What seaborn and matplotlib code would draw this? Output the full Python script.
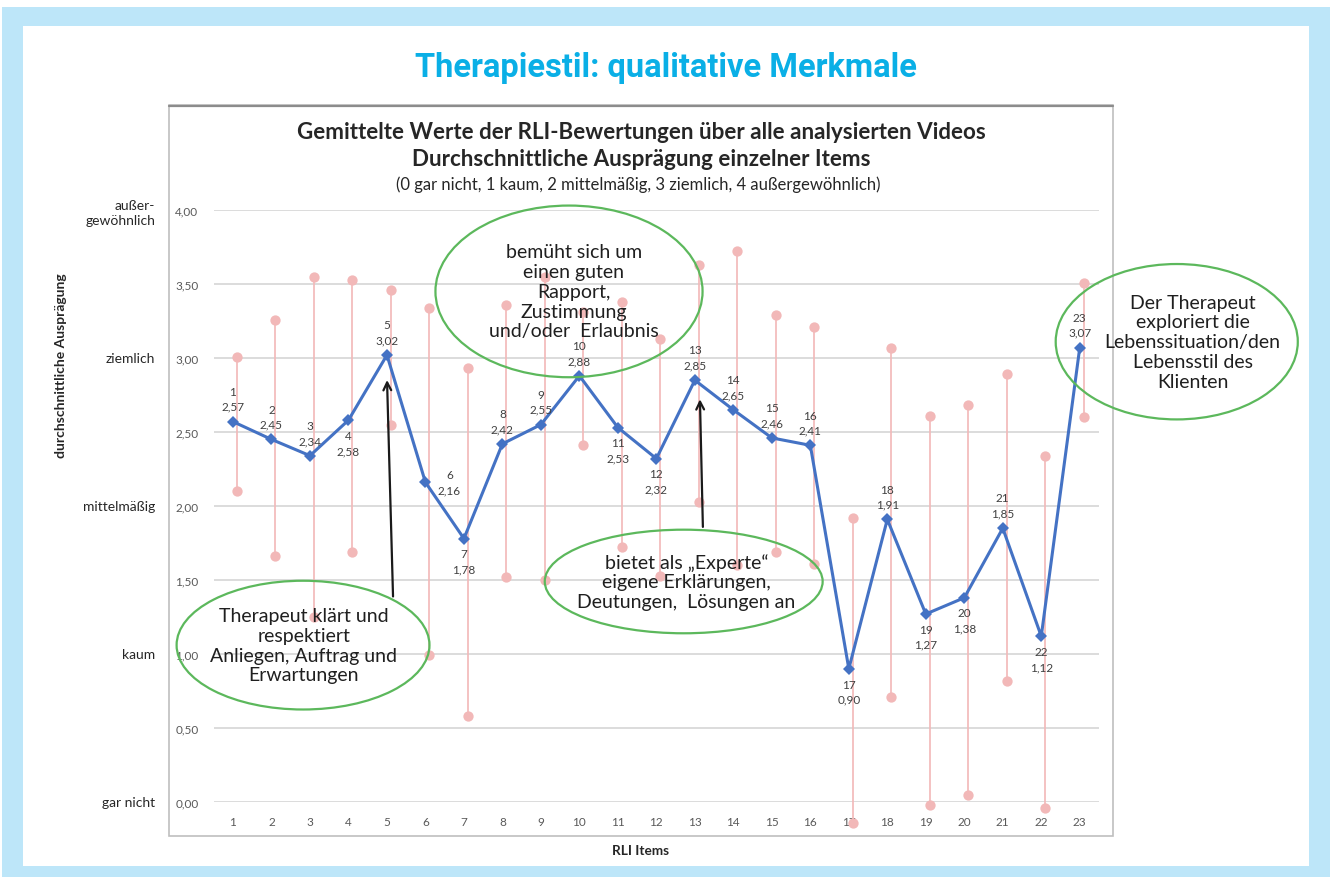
import numpy as np
import pandas as pd
import matplotlib
matplotlib.use("Agg")
import matplotlib.pyplot as plt
import seaborn as sns
from matplotlib.patches import Ellipse, Rectangle
from matplotlib.transforms import blended_transform_factory

# ---------------- data ----------------
items = list(range(1, 24))
means = [2.57, 2.45, 2.34, 2.58, 3.02, 2.16, 1.78, 2.42, 2.55, 2.88, 2.53, 2.32,
         2.85, 2.65, 2.46, 2.41, 0.90, 1.91, 1.27, 1.38, 1.85, 1.12, 3.07]
upper = [3.01, 3.26, 3.55, 3.53, 3.46, 3.34, 2.93, 3.36, 3.55, 3.31, 3.38, 3.13,
         3.63, 3.72, 3.29, 3.21, 1.92, 3.07, 2.61, 2.68, 2.89, 2.34, 3.51]
lower = [2.10, 1.66, 1.25, 1.69, 2.55, 0.99, 0.58, 1.52, 1.50, 2.41, 1.72, 1.53,
         2.03, 1.60, 1.69, 1.61, -0.14, 0.71, -0.02, 0.05, 0.82, -0.04, 2.60]
y_ticks = [0.0, 0.5, 1.0, 1.5, 2.0, 2.5, 3.0, 3.5, 4.0]
scale_labels = ["gar nicht", "kaum", "mittelmäßig", "ziemlich", "außer-\ngewöhnlich"]
scale_values = [0, 1, 2, 3, 4]
# label placement of data labels (style)
label_pos = ["a", "a", "a", "b", "a", "r", "b", "a", "a", "a", "b", "b",
             "a", "a", "a", "a", "b", "a", "b", "b", "a", "b", "a"]

main_title = "Therapiestil: qualitative Merkmale"
chart_title = ("Gemittelte Werte der RLI-Bewertungen über alle analysierten Videos\n"
               "Durchschnittliche Ausprägung einzelner Items")
chart_sub = "(0 gar nicht, 1 kaum, 2 mittelmäßig, 3 ziemlich, 4 außergewöhnlich)"

df = pd.DataFrame({"item": items, "mean": means, "upper": upper, "lower": lower})

# ---------------- style ----------------
sns.set_style("white")
plt.rcParams["font.family"] = ["Lato", "DejaVu Sans"]

W, H = 1330, 878
fig = plt.figure(figsize=(W / 100, H / 100), dpi=100)
fig.patch.set_facecolor("white")

def fx(px):
    return px / W

def fy(py):
    return 1 - py / H

# light blue frame
fig.patches.append(Rectangle((fx(2), fy(878)), fx(1328), 1 - 8 / H, transform=fig.transFigure,
                             facecolor="#BDE6F9", edgecolor="none", zorder=0))
fig.patches.append(Rectangle((fx(23), fy(867)), fx(1286), (867 - 27) / H, transform=fig.transFigure,
                             facecolor="white", edgecolor="none", zorder=0))
# chart area box
fig.patches.append(Rectangle((fx(169), fy(837)), fx(944), (837 - 106) / H, transform=fig.transFigure,
                             facecolor="white", edgecolor="#BFBFBF", linewidth=1.2, zorder=0))
fig.lines.append(plt.Line2D([fx(169), fx(1113)], [fy(106.5), fy(106.5)], transform=fig.transFigure,
                            color="#8C8C8C", linewidth=1.6, zorder=1))

# axes
ax = fig.add_axes([213.75 / W, 1 - 803 / H, (1099 - 213.75) / W, (803 - 211) / H])
ax.set_zorder(3)
ax.set_facecolor("none")
ax.patch.set_alpha(0)

# pink range lines with end dots (slightly offset as in original)
off = 0.1
pink = "#F2B8B8"
ax.vlines(df["item"] + off, df["lower"], df["upper"], color=pink, linewidth=1.2,
          zorder=2, clip_on=False)
ax.scatter(df["item"] + off, df["upper"], s=55, color=pink, zorder=2, clip_on=False, linewidths=0)
ax.scatter(df["item"] + off, df["lower"], s=55, color=pink, zorder=2, clip_on=False, linewidths=0)

# blue mean line
sns.lineplot(data=df, x="item", y="mean", ax=ax, color="#4472C4", linewidth=2.2,
             marker="D", markersize=6.5, markeredgewidth=0, zorder=4, sort=False)
ax.set_xlabel("")
ax.set_ylabel("")

ax.set_xlim(0.5, 23.5)
ax.set_ylim(0, 4)
for s in ax.spines.values():
    s.set_visible(False)
ax.set_yticks(y_ticks)
ax.set_yticklabels([f"{v:.2f}".replace(".", ",") for v in y_ticks])
ax.set_xticks(items)
ax.set_xticklabels([str(i) for i in items])
ax.tick_params(axis="both", length=0, labelsize=8.5, labelcolor="#595959")
ax.tick_params(axis="y", pad=11)
ax.tick_params(axis="x", pad=10)
ax.yaxis.grid(True, color="#D9D9D9", linewidth=1.3)
ax.xaxis.grid(False)
ax.set_axisbelow(True)

# data labels
for it, m, p in zip(items, means, label_pos):
    txt = f"{it}\n{m:.2f}".replace(".", ",")
    kw = dict(textcoords="offset points", fontsize=8.5, color="#404040",
              linespacing=1.45, zorder=5)
    if p == "a":
        ax.annotate(txt, (it, m), xytext=(0, 7), ha="center", va="bottom", **kw)
    elif p == "b":
        ax.annotate(txt, (it, m), xytext=(0, -7), ha="center", va="top", **kw)
    else:
        ax.annotate(txt, (it, m), xytext=(9, 0), ha="left", va="center",
                    multialignment="center", **kw)

# scale labels on the left
tr = blended_transform_factory(fig.transFigure, ax.transData)
for v, lab in zip(scale_values, scale_labels):
    ax.text(fx(155), v + (-0.02 if v == 4 else 0), lab, transform=tr, ha="right", va="center",
            multialignment="right", fontsize=10, color="#262626", linespacing=1.3)

# axis titles
fig.text(fx(61), fy(366), "durchschnittliche Ausprägung", rotation=90, ha="center", va="center",
         fontsize=10, fontweight="bold", color="#262626")
fig.text(fx(640), fy(851), "RLI Items", ha="center", va="center",
         fontsize=9.8, fontweight="bold", color="#262626")

# titles
fig.text(fx(666), fy(68), main_title, ha="center", va="center", fontsize=23.5, fontweight="bold",
         color="#0AAFE6", family=["Roboto", "DejaVu Sans"])
fig.text(fx(641), fy(146), chart_title, ha="center", va="center", fontsize=16.1,
         fontweight="bold", color="#262626", linespacing=1.3)
fig.text(fx(638), fy(185), chart_sub, ha="center", va="center", fontsize=12, color="#262626")

# ellipses with annotations: (ellipse centre, width, height, text centre, text)
green = "#5CB85C"
ell = [
    ((2.82, 1.06), 6.57, 0.87, (2.84, 1.06),
     "Therapeut klärt und\nrespektiert\nAnliegen, Auftrag und\nErwartungen"),
    ((9.73, 3.45), 6.94, 1.16, (9.85, 3.45),
     "bemüht sich um\neinen guten\nRapport,\nZustimmung\nund/oder  Erlaubnis"),
    ((12.71, 1.49), 7.22, 0.70, (12.78, 1.49),
     "bietet als \u201eExperte\u201c\neigene Erklärungen,\nDeutungen,  Lösungen an"),
    ((25.52, 3.11), 6.29, 1.05, (25.93, 3.11),
     "Der Therapeut\nexploriert die\nLebenssituation/den\nLebensstil des\nKlienten"),
]
for (cx, cy), w, h, (tx, ty), t in ell:
    e = Ellipse((cx, cy), w, h, facecolor="none", edgecolor=green, linewidth=1.6,
                zorder=6, clip_on=False)
    ax.add_patch(e)
    ax.text(tx, ty, t, ha="center", va="center", fontsize=14, color="#1f1f1f",
            linespacing=1.2, zorder=7, clip_on=False)

# arrows
for (x0, y0), (x1, y1) in [((5.16, 1.37), (5.0, 2.87)), ((13.21, 1.84), (13.13, 2.74))]:
    ax.annotate("", xy=(x1, y1), xytext=(x0, y0),
                arrowprops=dict(arrowstyle="->", color="#1a1a1a", lw=1.6,
                                mutation_scale=14), zorder=6, annotation_clip=False)

fig.savefig("out.png", dpi=100, facecolor=fig.get_facecolor())
